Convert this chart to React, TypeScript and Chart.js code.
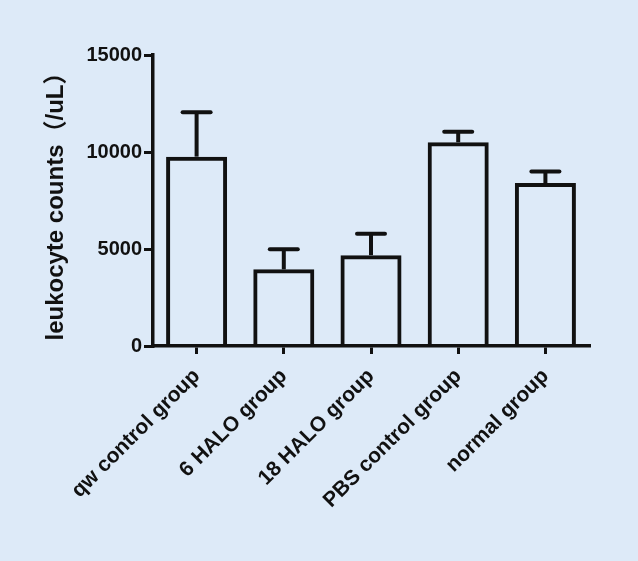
import React, { useEffect, useRef } from "react";
import { Chart, registerables } from "chart.js";

Chart.register(...registerables);

const categories = ["qw control group", "6 HALO group", "18 HALO group", "PBS control group", "normal group"];
const means = [9760, 3950, 4680, 10500, 8400];
const errors = [2290, 1035, 1110, 540, 600];
const yTicks = [0, 5000, 10000, 15000];
const yTitle = "leukocyte counts（/uL）";

const BG = "rgb(221,234,248)";
const INK = "#111111";
const FAMILY = "'Liberation Sans', Arial, 'Noto Sans CJK SC', sans-serif";

const errorBarPlugin = {
  id: "errorBars",
  afterDatasetsDraw(chart: any) {
    const { ctx } = chart;
    const meta = chart.getDatasetMeta(0);
    const y = chart.scales.y;
    ctx.save();
    ctx.strokeStyle = INK;
    ctx.lineWidth = 4;
    meta.data.forEach((bar: any, i: number) => {
      const x = bar.x;
      const top = y.getPixelForValue(means[i] + errors[i]);
      ctx.lineCap = "butt";
      ctx.beginPath();
      ctx.moveTo(x, bar.y);
      ctx.lineTo(x, top);
      ctx.stroke();
      ctx.lineCap = "round";
      ctx.beginPath();
      ctx.moveTo(x - 14, top);
      ctx.lineTo(x + 14, top);
      ctx.stroke();
    });
    ctx.restore();
  },
};

export default function App() {
  const ref = useRef<HTMLCanvasElement | null>(null);

  useEffect(() => {
    document.body.style.margin = "0";
    document.body.style.background = BG;
    const canvas = ref.current;
    if (!canvas) return;
    const chart = new Chart(canvas, {
      type: "bar",
      data: {
        labels: categories,
        datasets: [
          {
            data: means,
            backgroundColor: "rgba(0,0,0,0)",
            borderColor: INK,
            borderWidth: 4,
            borderSkipped: "start",
            barPercentage: 0.7,
            categoryPercentage: 1,
          },
        ],
      },
      options: {
        animation: false,
        responsive: false,
        devicePixelRatio: 1,
        layout: { padding: { top: 55, right: 49, bottom: 0, left: 0 } },
        plugins: { legend: { display: false }, tooltip: { enabled: false } },
        scales: {
          x: {
            type: "category",
            offset: true,
            grid: {
              display: true,
              drawOnChartArea: false,
              drawTicks: true,
              tickLength: 8,
              tickWidth: 3,
              tickColor: INK,
              offset: false,
              lineWidth: 3,
              color: INK,
            },
            border: { display: true, color: INK, width: 3.5 },
            ticks: {
              color: INK,
              font: { family: FAMILY, size: 21, weight: "bold" },
              minRotation: 45,
              maxRotation: 45,
              autoSkip: false,
              padding: 10,
            },
            afterFit: (s: any) => {
              s.height = 215;
            },
          },
          y: {
            min: 0,
            max: 15000,
            afterBuildTicks: (s: any) => {
              s.ticks = yTicks.map((v) => ({ value: v }));
            },
            grid: {
              display: true,
              drawOnChartArea: false,
              drawTicks: true,
              tickLength: 9,
              tickWidth: 3,
              tickColor: INK,
              lineWidth: 3,
              color: INK,
            },
            border: { display: true, color: INK, width: 3.5 },
            ticks: {
              color: INK,
              font: { family: FAMILY, size: 20, weight: "bold" },
              padding: 2,
              callback: (v: any) => String(v),
            },
            title: {
              display: true,
              text: yTitle,
              color: INK,
              font: { family: FAMILY, size: 24, weight: "bold" },
              padding: { top: 42, bottom: 0 },
            },
            afterFit: (s: any) => {
              s.width = 153;
            },
          },
        },
      },
      plugins: [errorBarPlugin],
    });
    return () => chart.destroy();
  }, []);

  return (
    <div style={{ width: 638, height: 561, background: BG }}>
      <canvas ref={ref} width={638} height={561} style={{ display: "block" }} />
    </div>
  );
}
